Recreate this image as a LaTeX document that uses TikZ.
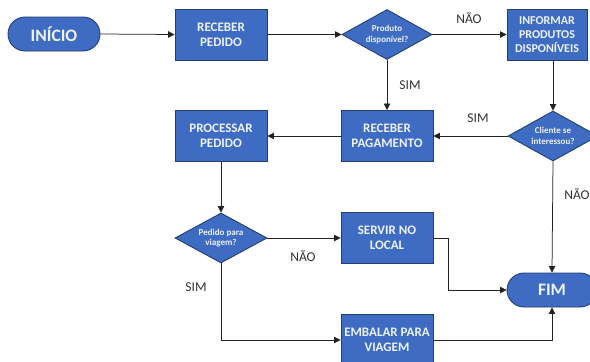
\documentclass[tikz,border=0pt]{standalone}
\usepackage{fontspec}
\setmainfont{Carlito}
\usetikzlibrary{shapes.geometric,arrows.meta}
\definecolor{boxblue}{RGB}{62,108,194}
\definecolor{boxedge}{RGB}{36,62,116}
\definecolor{boxtext}{RGB}{238,242,250}
\definecolor{wire}{RGB}{35,35,35}
\definecolor{labelgray}{RGB}{50,50,50}
\begin{document}
\begin{tikzpicture}[x=1pt,y=-1pt,
  stepbox/.style={draw=boxedge, fill=boxblue, line width=0.9pt,
    minimum width=92pt, minimum height=51pt, inner sep=0pt,
    text=boxtext, align=center, font=\bfseries\fontsize{13}{15}\selectfont},
  pill/.style={draw=boxedge, fill=boxblue, line width=0.9pt,
    rounded corners=17pt, minimum width=92pt, minimum height=34pt,
    text=boxtext, font=\bfseries\fontsize{17.5}{19}\selectfont},
  choice/.style={diamond, shape aspect=1.8, draw=boxedge, fill=boxblue, line width=0.9pt,
    minimum width=90pt, minimum height=50pt, inner sep=0pt,
    text=boxtext, align=center, font=\bfseries\fontsize{9}{10.5}\selectfont},
  wirestyle/.style={draw=wire, line width=0.75pt, -{Triangle[length=6.5pt,width=6.5pt]}},
  answer/.style={text=labelgray, font=\fontsize{13.5}{15}\selectfont}
]
\useasboundingbox (0,0) rectangle (590,362);
\clip (0,0) rectangle (590,362);

% process nodes
\node[pill] (start) at (54,34) {INÍCIO};
\node[stepbox] (recv) at (221,34.5) {RECEBER\\PEDIDO};
\node[choice] (prod) at (387,34.5) {Produto\\disponível?};
\node[stepbox, minimum width=80pt, font=\bfseries\fontsize{12}{14}\selectfont] (info) at (547,34.5) {INFORMAR\\PRODUTOS\\DISPONÍVEIS};
\node[stepbox] (pag) at (387,136) {RECEBER\\PAGAMENTO};
\node[choice] (cli) at (553,136) {Cliente se\\interessou?};
\node[stepbox] (proc) at (221,136) {PROCESSAR\\PEDIDO};
\node[choice, minimum width=92pt] (viag) at (221,238) {Pedido para\\viagem?};
\node[stepbox] (serv) at (387,238) {SERVIR NO\\LOCAL};
\node[stepbox] (emb) at (387,340) {EMBALAR PARA\\VIAGEM};
\node[pill, minimum width=90pt] (fim) at (552,290) {FIM};

% connectors
\draw[wirestyle] (start.east) -- (recv.west);
\draw[wirestyle] (recv.east) -- (prod.west);
\draw[wirestyle] (prod.east) -- (info.west);
\draw[wirestyle] (prod.south) -- (pag.north);
\draw[wirestyle] (info.south -| cli.north) -- (cli.north);
\draw[wirestyle] (cli.west) -- (pag.east);
\draw[wirestyle] (pag.west) -- (proc.east);
\draw[wirestyle] (proc.south) -- (viag.north);
\draw[wirestyle] (viag.east) -- (serv.west);
\draw[wirestyle] (viag.south) |- (emb.west);
\coordinate (bend) at ([xshift=15pt]serv.east);
\draw[wirestyle] (serv.east) -- (bend) |- (fim.west);
\draw[wirestyle] (emb.east) -| (fim.south);
\draw[wirestyle] (cli.south) -- (fim.north);

% answer labels
\node[answer] (n1) at (469,18) {NÃO};
\node[answer] (s1) at (410,85) {SIM};
\node[answer] (s2) at (478,118) {SIM};
\node[answer] (n2) at (577,194) {NÃO};
\node[answer] (n3) at (303,256) {NÃO};
\node[answer] (s3) at (196,287) {SIM};
\end{tikzpicture}
\end{document}
